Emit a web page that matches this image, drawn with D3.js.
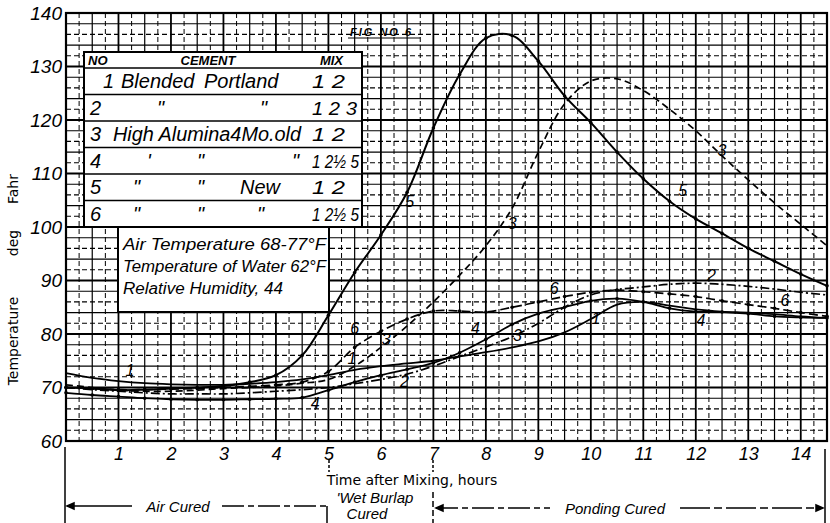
<!DOCTYPE html>
<html>
<head>
<meta charset="utf-8">
<script src="https://cdn.jsdelivr.net/npm/d3@7"></script>
<style>
  body { margin: 0; background: #fff; }
  svg { display: block; }
  .lbl { font-family: "Liberation Sans", sans-serif; font-style: italic; fill: #000; }
</style>
</head>
<body>
<svg id="chart" width="830" height="523"></svg>
<script>
// hours after mixing, shared by all six curves
const hours = [0, 0.5, 1, 1.5, 2, 2.5, 3, 3.5, 4, 4.5, 5, 5.5, 6, 6.5, 7, 7.5,
  8, 8.5, 9, 9.5, 10, 10.5, 11, 11.5, 12, 12.5, 13, 13.5, 14, 14.5];

// temperatures, deg Fahr, one list per specimen
const temp1 = [72.7, 71.8, 71.2, 70.8, 70.6, 70.5, 70.5, 70.7, 71, 71.5, 72.3, 73.3, 74, 74.5, 75, 75.8,
  76.6, 77.5, 78.6, 80.3, 82.8, 85.5, 86, 85.3, 84.6, 84.2, 84, 83.7, 83.3, 83];
const temp2 = [70, 69.6, 69.3, 69, 68.8, 68.8, 68.8, 69, 69.3, 69.6, 70, 70.7, 71.5, 72.5, 74, 75.8,
  77.6, 79.5, 82, 85, 87.3, 88.3, 88.8, 89.3, 89.5, 89.3, 88.9, 88.4, 87.8, 87.3];
const temp3 = [70.5, 70, 69.5, 69.3, 69.3, 69.5, 69.8, 70, 70.3, 70.8, 71.5, 74, 77.5, 81.5, 86, 91,
  96.5, 103.5, 114, 123, 127.3, 127.7, 125.5, 122, 118, 113.3, 108.8, 104.5, 100.5, 96.5];
const temp4 = [69, 68.6, 68.3, 68, 67.8, 67.7, 67.7, 67.8, 67.9, 68.1, 69.5, 71, 72.3, 73.4, 74.6, 76.5,
  79, 81.8, 83.8, 85, 86.2, 86.6, 86, 84.8, 84.2, 84.1, 83.8, 83.3, 83.1, 83];
const temp5 = [70, 69.8, 69.5, 69.6, 69.8, 70, 70.3, 71, 72.3, 76, 83.5, 91.5, 98.5, 106.5, 118.5, 128.5,
  135.3, 135.8, 131, 124.5, 119.5, 114, 109, 104.8, 101.5, 98.8, 96, 93.6, 91.2, 89];
const temp6 = [70, 69.8, 69.6, 69.6, 69.7, 69.8, 70, 70.2, 70.5, 71, 73, 77.5, 80.5, 82.8, 84.3, 84.3,
  84.1, 85, 86, 87, 87.8, 88.2, 87.9, 87.5, 87, 86.2, 85.5, 84.8, 84, 83.3];

const hourTicks = [1, 2, 3, 4, 5, 6, 7, 8, 9, 10, 11, 12, 13, 14];
const tempTicks = [60, 70, 80, 90, 100, 110, 120, 130, 140];

// legend table
const cementNo = ["1", "2", "3", "4", "5", "6"];
const cementWords = [["Blended", "Portland"], ["\"", "\""], ["High Alumina4Mo.old"],
  ["'", "\"", "\""], ["\"", "\"", "New"], ["\"", "\"", "\""]];
const mixes = ["1 2", "1 2 3", "1 2", "1 2\u00BD 5", "1 2", "1 2\u00BD 5"];
const notes = ["Air Temperature 68-77\u00B0F", "Temperature of Water 62\u00B0F", "Relative Humidity, 44"];

// curve number tags: [text, hour, temp]
const tags = [["1", 1.22, 72.9], ["5", 6.55, 104.5], ["3", 8.5, 100.5], ["5", 11.75, 106.5],
  ["3", 12.5, 114], ["6", 5.5, 80.7], ["1", 5.45, 75.2], ["3", 6.1, 78.7], ["2", 6.45, 70.9],
  ["4", 4.75, 66.7], ["4", 7.8, 80.8], ["3", 8.6, 79.4], ["6", 9.3, 88.2], ["1", 10.1, 82.6],
  ["2", 12.3, 90.7], ["4", 12.1, 82.2], ["6", 13.7, 86]];

const svg = d3.select("#chart");
const x = d3.scaleLinear().domain([0, 14.5]).range([66, 827]);
const y = d3.scaleLinear().domain([60, 140]).range([441, 13]);

// graph paper
const grid = svg.append("g").attr("stroke", "#000").attr("fill", "none");
d3.range(0.25, 14.5, 0.25).forEach(h => {
  const q = Math.round(h * 4) % 4;
  grid.append("line")
    .attr("x1", x(h)).attr("x2", x(h)).attr("y1", y(140)).attr("y2", y(60))
    .attr("stroke-width", q === 0 ? 1.8 : q === 2 ? 1.2 : 1)
    .attr("stroke-dasharray", q === 0 || q === 2 ? null : "5,3");
});
d3.range(62, 140, 2).forEach(t => {
  const k = t % 10;
  grid.append("line")
    .attr("x1", x(0)).attr("x2", x(14.5)).attr("y1", y(t)).attr("y2", y(t))
    .attr("stroke-width", k === 0 ? 1.8 : 1.1)
    .attr("stroke-dasharray", k === 2 || k === 6 ? "5,3" : null);
});
svg.append("rect")
  .attr("x", x(0)).attr("y", y(140)).attr("width", x(14.5) - x(0)).attr("height", y(60) - y(140))
  .attr("fill", "none").attr("stroke", "#000").attr("stroke-width", 2.2);

// axes
const yAxis = d3.axisLeft(y).tickValues(tempTicks).tickSize(0).tickPadding(4);
svg.append("g").attr("transform", "translate(66,0)").call(yAxis)
  .call(g => g.select(".domain").remove())
  .selectAll("text").attr("class", "lbl").style("font-size", "19px").attr("fill", "#000");

const xAxis = d3.axisBottom(x).tickValues(hourTicks).tickSize(0).tickPadding(6);
svg.append("g").attr("transform", "translate(0,441)").call(xAxis)
  .call(g => g.select(".domain").remove())
  .selectAll("text").attr("class", "lbl").style("font-size", "18px").attr("fill", "#000");

// legend boxes
const tbl = svg.append("g");
tbl.append("rect").attr("x", 84).attr("y", 52).attr("width", 278).attr("height", 175)
  .attr("fill", "#fff").attr("stroke", "#000").attr("stroke-width", 2);
tbl.append("rect").attr("x", 118).attr("y", 227).attr("width", 211).attr("height", 85)
  .attr("fill", "#fff").attr("stroke", "#000").attr("stroke-width", 2);
const rowTop = 68, rowH = 26.5;
cementNo.forEach((d, i) => {
  tbl.append("line").attr("x1", 84).attr("x2", 362)
    .attr("y1", rowTop + i * rowH).attr("y2", rowTop + i * rowH)
    .attr("stroke", "#000").attr("stroke-width", 1.6);
});
[["NO", 88, "start"], ["CEMENT", 208, "middle"], ["MIX", 343, "end"]].forEach(([t, px, a]) => {
  tbl.append("text").attr("class", "lbl").attr("x", px).attr("y", 65)
    .attr("text-anchor", a).style("font-size", "13px").style("font-weight", "bold").text(t);
});
const wordX = [[121, 204], [157, 260], [113], [147, 197, 292], [133, 197, 240], [133, 197, 257]];
const mixLen = [33, 45, 33, 47, 33, 47];
cementNo.forEach((n, i) => {
  const base = rowTop + i * rowH + 20;
  tbl.append("text").attr("class", "lbl").attr("x", i === 0 ? 103 : 90).attr("y", base)
    .style("font-size", "20px").text(n);
  cementWords[i].forEach((w, j) => {
    const t = tbl.append("text").attr("class", "lbl").attr("x", wordX[i][j]).attr("y", base)
      .style("font-size", "20px").text(w);
    if (i === 2) t.attr("textLength", 188).attr("lengthAdjust", "spacingAndGlyphs");
  });
  tbl.append("text").attr("class", "lbl").attr("x", 312).attr("y", base)
    .attr("textLength", mixLen[i]).attr("lengthAdjust", "spacingAndGlyphs")
    .style("font-size", "19px").text(mixes[i]);
});
notes.forEach((t, i) => {
  tbl.append("text").attr("class", "lbl").attr("x", 123).attr("y", 250 + i * 22)
    .attr("textLength", i === 2 ? 160 : 203).attr("lengthAdjust", "spacingAndGlyphs")
    .style("font-size", "16px").text(t);
});

// curves
const series = [
  {v: temp1, dash: null, w: 1.8, dots: false},
  {v: temp2, dash: "9,3,2,3", w: 1.7, dots: false},
  {v: temp3, dash: "7,4", w: 1.7, dots: false},
  {v: temp4, dash: null, w: 1.8, dots: true},
  {v: temp5, dash: null, w: 2, dots: true},
  {v: temp6, dash: "9,4", w: 1.7, dots: true}
];
const line = d3.line().x((d, i) => x(hours[i])).y(d => y(d)).curve(d3.curveCatmullRom.alpha(0.5));
series.forEach(s => {
  svg.append("path").datum(s.v).attr("d", line).attr("fill", "none")
    .attr("stroke", "#000").attr("stroke-width", s.w).attr("stroke-dasharray", s.dash);
  if (s.dots) {
    svg.append("g").selectAll("circle").data(s.v).join("circle")
      .attr("cx", (d, i) => x(hours[i])).attr("cy", d => y(d)).attr("r", 1.8).attr("fill", "#000");
  }
});

tags.forEach(([t, h, v]) => {
  svg.append("text").attr("class", "lbl").attr("x", x(h)).attr("y", y(v))
    .attr("text-anchor", "middle").attr("dominant-baseline", "middle")
    .style("font-size", "16px").text(t);
});

// FIG NO 6
svg.append("text").attr("class", "lbl").attr("x", 350).attr("y", 36)
  .style("font-size", "11px").style("font-weight", "bold").style("letter-spacing", "2px")
  .text("FIG  NO  6");
svg.append("line").attr("x1", 348).attr("x2", 420).attr("y1", 38).attr("y2", 38)
  .attr("stroke", "#000").attr("stroke-width", 1);

// axis titles
svg.append("g").attr("transform", "translate(18,283) rotate(-90)").call(g => {
  [["Temperature", -58], ["deg", 40], ["Fahr", 94]].forEach(([t, off]) => {
    g.append("text").attr("x", off).attr("y", 0).attr("text-anchor", "middle")
      .style("font-family", "DejaVu Sans, sans-serif").style("font-size", "14px").text(t);
  });
});
svg.append("text").attr("x", 412).attr("y", 485).attr("text-anchor", "middle")
  .style("font-family", "DejaVu Sans, sans-serif").style("font-size", "14px")
  .text("Time after Mixing, hours");

// curing periods
const ann = svg.append("g").attr("stroke", "#000").attr("stroke-width", 1.5).attr("fill", "none");
ann.append("line").attr("x1", 65).attr("x2", 65).attr("y1", 447).attr("y2", 523);
ann.append("line").attr("x1", 67).attr("x2", 132).attr("y1", 506).attr("y2", 506);
ann.append("path").attr("d", "M67,506 l7,-3 v6 z").attr("fill", "#000");
ann.append("line").attr("x1", 222).attr("x2", 326).attr("y1", 506).attr("y2", 506)
  .attr("stroke-dasharray", "22,4,6,4");
ann.append("line").attr("x1", 327).attr("x2", 327).attr("y1", 506).attr("y2", 523);
ann.append("line").attr("x1", 329).attr("x2", 329).attr("y1", 460).attr("y2", 472)
  .attr("stroke-dasharray", "3,2");
ann.append("line").attr("x1", 433).attr("x2", 433).attr("y1", 460).attr("y2", 472)
  .attr("stroke-dasharray", "3,2");
ann.append("line").attr("x1", 433).attr("x2", 433).attr("y1", 492).attr("y2", 523)
  .attr("stroke-dasharray", "6,3");
ann.append("line").attr("x1", 436).attr("x2", 550).attr("y1", 508).attr("y2", 508)
  .attr("stroke-dasharray", "22,4,6,4");
ann.append("path").attr("d", "M436,508 l7,-3 v6 z").attr("fill", "#000");
ann.append("line").attr("x1", 680).attr("x2", 822).attr("y1", 508).attr("y2", 508)
  .attr("stroke-dasharray", "30,4,8,4");
ann.append("path").attr("d", "M823,508 l-7,-3 v6 z").attr("fill", "#000");
ann.append("line").attr("x1", 825).attr("x2", 825).attr("y1", 449).attr("y2", 523);

[["Air Cured", 178, 512], ["'Wet Burlap", 375, 503], ["Cured", 367, 519], ["Ponding Cured", 615, 514]]
  .forEach(([t, px, py]) => {
    svg.append("text").attr("class", "lbl").attr("x", px).attr("y", py).attr("text-anchor", "middle")
      .style("font-size", "15px").text(t);
  });
</script>
</body>
</html>
